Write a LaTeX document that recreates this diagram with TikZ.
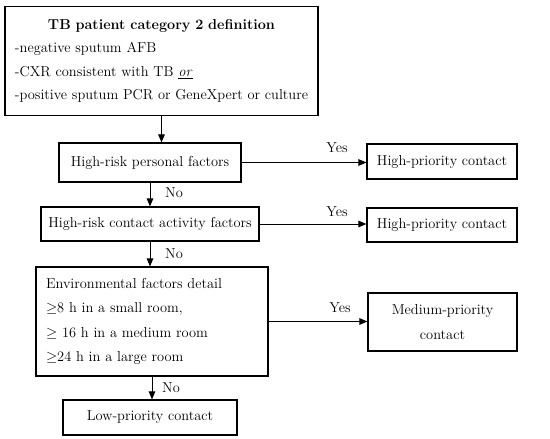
\documentclass[tikz,border=0pt]{standalone}
\usepackage{amsmath,amssymb,amsfonts}
\usepackage{tikz}
\usetikzlibrary{arrows.meta}

\begin{document}
\begin{tikzpicture}[x=1pt,y=-1pt,
  font=\fontsize{14.4}{23.5}\selectfont,
  box/.style={draw,line width=1.1pt,rectangle,inner sep=0pt},
  arr/.style={line width=1pt,-{Triangle[length=8pt,width=6.5pt]}}]
\useasboundingbox (0,0) rectangle (550,439);

% Decision column (left)
\node[box,minimum width=313,minimum height=109,text width=302,align=left] (def) at (161.5,61)
  {\leftskip=4.5pt\hyphenpenalty=10000
   {\centering\bfseries TB patient category 2 definition\par}
   -negative sputum AFB\\
   -CXR consistent with TB \underline{\textit{or}}\\
   -positive sputum PCR or GeneXpert or culture\par};
\node[box,minimum width=182,minimum height=39] (pers) at (150,162.5) {High-risk personal factors};
\node[box,minimum width=218,minimum height=34] (act) at (150,224) {High-risk contact activity factors};
\node[box,minimum width=232,minimum height=109,text width=212,align=left,
  font=\fontsize{14.4}{24.3}\selectfont] (env) at (152,321.5)
  {Environmental factors detail\\
   $\geq$8 h in a small room,\\
   $\geq$ 16 h in a medium room\\
   $\geq$24 h in a large room};
\node[box,minimum width=174,minimum height=35] (low) at (150,417.5) {Low-priority contact};

% Outcome column (right)
\node[box,minimum width=150,minimum height=35] (hp1) at (442,161.5) {High-priority contact};
\node[box,minimum width=150,minimum height=34] (hp2) at (442,225) {High-priority contact};
\node[box,minimum width=149,minimum height=58,align=center,
  font=\fontsize{14.4}{25}\selectfont] (med) at (442.5,322) {Medium-priority\\contact};

% "No" edges
\draw[arr] (def.south) -- (def.south |- pers.north);
\draw[arr] (pers.south) -- (act.north);
\draw[arr] (act.south) -- (act.south |- env.north);
\draw[arr] (env.south) -- (env.south |- low.north);

% "Yes" edges
\draw[arr] (pers.east) -- (pers.east -| hp1.west);
\draw[arr] (act.east) -- (act.east -| hp2.west);
\draw[arr] (env.east) -- (env.east -| med.west);

% Labels
\node (yes1) at (337,148) {Yes};
\node (yes2) at (337,212) {Yes};
\node (yes3) at (340,308) {Yes};
\node (no1) at (174,193) {No};
\node (no2) at (174,254) {No};
\node (no3) at (171,388) {No};

\end{tikzpicture}
\end{document}
